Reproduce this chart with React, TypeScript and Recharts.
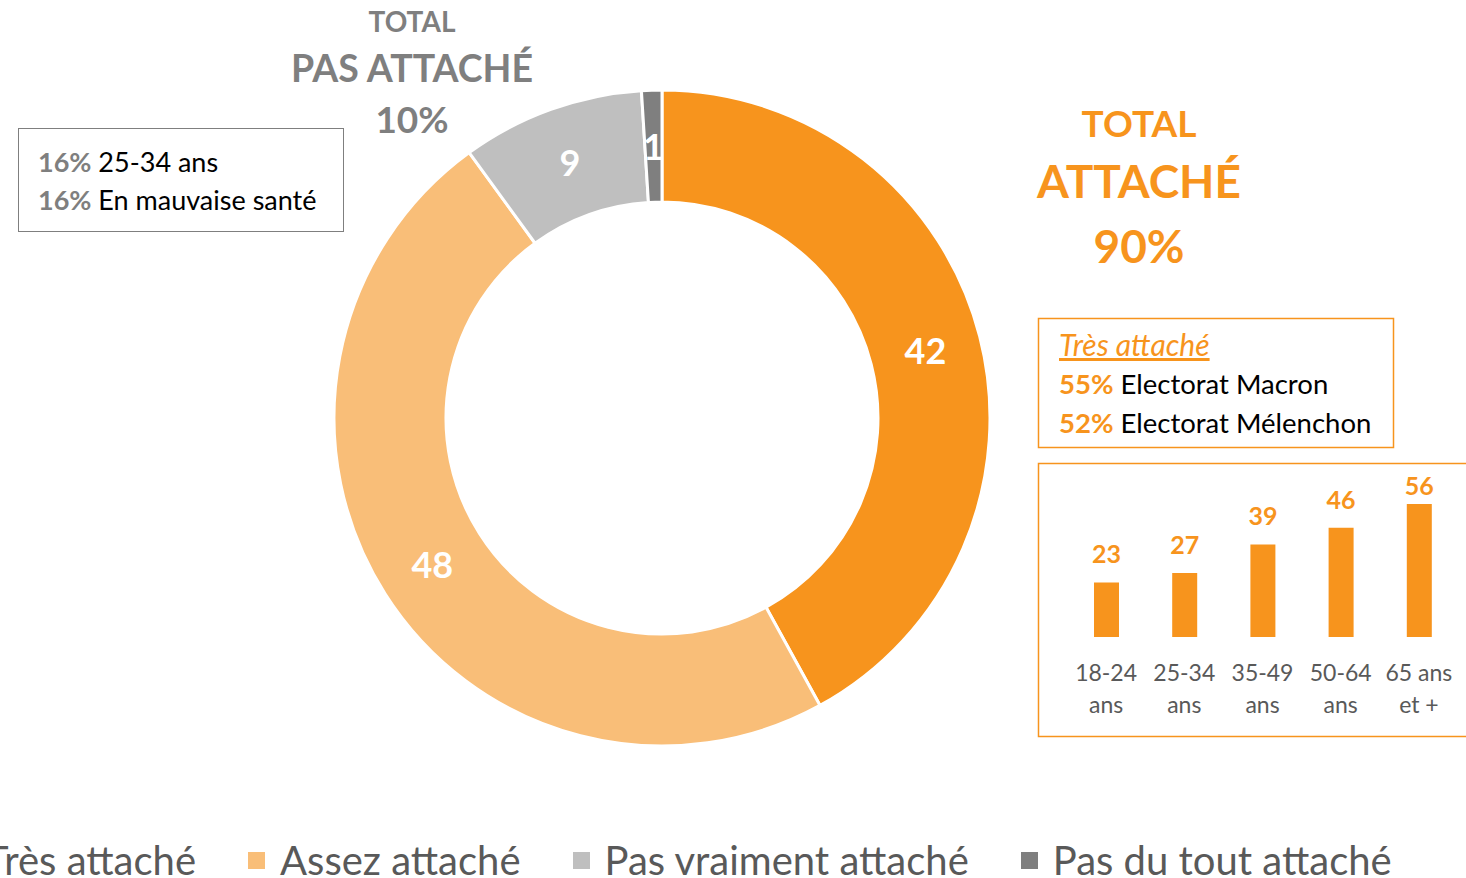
import React from 'react';
import { PieChart, Pie, Cell, Legend, BarChart, Bar, XAxis, YAxis, LabelList } from 'recharts';

// Donut : niveau d'attachement (total = 100)
const categories = ['Très attaché', 'Assez attaché', 'Pas vraiment attaché', 'Pas du tout attaché'];
const shares = [42, 48, 9, 1];
const sliceColors = ['#F7941D', '#F9BE78', '#BFBFBF', '#7F7F7F'];

// Encadré : "Très attaché" par tranche d'âge
const ageGroups = ['18-24 ans', '25-34 ans', '35-49 ans', '50-64 ans', '65 ans et +'];
const ageTickLines = [['18-24', 'ans'], ['25-34', 'ans'], ['35-49', 'ans'], ['50-64', 'ans'], ['65 ans', 'et +']];
const tresAttacheByAge = [23, 27, 39, 46, 56];

const ORANGE = '#F7941D';
const GREY = '#7F7F7F';
const FONT = 'Lato, "Open Sans", sans-serif';
const RAD = Math.PI / 180;

const pieData = categories.map((name, i) => ({ name, value: shares[i] }));
const barData = ageGroups.map((age, i) => ({ age, value: tresAttacheByAge[i] }));

// chiffre blanc au milieu de l'anneau
function SliceLabel(props: any) {
  const { cx, cy, midAngle, innerRadius, outerRadius, value } = props;
  const r = (innerRadius + outerRadius) / 2;
  const x = cx + r * Math.cos(-midAngle * RAD);
  const y = cy + r * Math.sin(-midAngle * RAD);
  return (
    <text x={x} y={y} fill="#fff" fontSize={36} fontWeight="bold" fontFamily={FONT}
      textAnchor="middle" dominantBaseline="central">
      {value}
    </text>
  );
}

// légende dans l'ordre des catégories (Recharts trie par défaut)
function LegendRow() {
  return (
    <div style={{ display: 'flex', justifyContent: 'flex-start', gap: 52, whiteSpace: 'nowrap', fontFamily: FONT }}>
      {categories.map((name, i) => (
        <div key={name} style={{ display: 'flex', alignItems: 'center', gap: 15 }}>
          <span style={{ width: 17, height: 17, background: sliceColors[i], flex: 'none' }} />
          <span style={{ fontSize: 40, lineHeight: '36px', color: '#595959' }}>{name}</span>
        </div>
      ))}
    </div>
  );
}

// libellé d'âge sur deux lignes
function AgeTick(props: any) {
  const { x, y, index } = props;
  const lines = ageTickLines[index] ?? [];
  return (
    <g>
      {lines.map((l, k) => (
        <text key={k} x={x} y={y + 44 + k * 32} textAnchor="middle" fill="#595959" fontSize={23} fontFamily={FONT}>
          {l}
        </text>
      ))}
    </g>
  );
}

// valeur au-dessus de la barre, gardée sous le bord de l'encadré
function BarValue(props: any) {
  const { x, y, width, value } = props;
  const base = Math.max(y - 19, 31);
  return (
    <text x={x + width / 2} y={base} textAnchor="middle" fill={ORANGE} fontSize={25} fontWeight="bold" fontFamily={FONT}>
      {value}
    </text>
  );
}

export default function App() {
  return (
    <div style={{ position: 'absolute', left: 0, top: 0, width: 1466, height: 878, overflow: 'hidden', background: '#fff', fontFamily: FONT }}>
      <PieChart width={1466} height={878} margin={{ top: 0, right: 0, bottom: 0, left: 0 }}>
        <Pie
          data={pieData}
          dataKey="value"
          nameKey="name"
          cx={662}
          cy={418}
          innerRadius={216}
          outerRadius={328}
          startAngle={90}
          endAngle={-270}
          stroke="#fff"
          strokeWidth={3}
          label={SliceLabel}
          labelLine={false}
          isAnimationActive={false}
        >
          {pieData.map((d, i) => (
            <Cell key={d.name} fill={sliceColors[i]} />
          ))}
        </Pie>
        <Legend content={LegendRow} wrapperStyle={{ position: 'absolute', left: -47, top: 842, width: 1600 }} />
      </PieChart>

      {/* annotations */}
      <svg width={1466} height={878} style={{ position: 'absolute', left: 0, top: 0, pointerEvents: 'none' }} fontFamily={FONT}>
        <g fill={GREY} fontWeight="bold" textAnchor="middle">
          <text x={412} y={32} fontSize={28}>TOTAL</text>
          <text x={412} y={82} fontSize={37.5}>PAS ATTACHÉ</text>
          <text x={412} y={133} fontSize={37}>10%</text>
        </g>
        <g fill={ORANGE} fontWeight="bold" textAnchor="middle">
          <text x={1139} y={137} fontSize={37}>TOTAL</text>
          <text x={1139} y={198} fontSize={46}>ATTACHÉ</text>
          <text x={1139} y={263} fontSize={46}>90%</text>
        </g>

        <rect x={18.5} y={128.5} width={325} height={103} fill="none" stroke={GREY} strokeWidth={1} />
        <text x={38} y={172} fontSize={27} fill="#000">
          <tspan fill={GREY} fontWeight="bold">16%</tspan> 25-34 ans
        </text>
        <text x={38} y={210} fontSize={27} fill="#000">
          <tspan fill={GREY} fontWeight="bold">16%</tspan> En mauvaise santé
        </text>

        <rect x={1038.5} y={318.5} width={355} height={129} fill="none" stroke={ORANGE} strokeWidth={1.5} />
        <text x={1059} y={356} fontSize={30} fill={ORANGE} fontStyle="italic" textDecoration="underline">Très attaché</text>
        <text x={1059} y={394} fontSize={27.5} fill="#000">
          <tspan fill={ORANGE} fontWeight="bold">55%</tspan> Electorat Macron
        </text>
        <text x={1059} y={433} fontSize={27.5} fill="#000">
          <tspan fill={ORANGE} fontWeight="bold">52%</tspan> Electorat Mélenchon
        </text>

        <rect x={1038.5} y={463.5} width={450} height={273} fill="none" stroke={ORANGE} strokeWidth={1.5} />
      </svg>

      <div style={{ position: 'absolute', left: 1067, top: 464 }}>
        <BarChart width={391} height={273} data={barData} margin={{ top: 40, right: 0, bottom: 0, left: 0 }}>
          <XAxis dataKey="age" axisLine={false} tickLine={false} tickSize={0} tickMargin={0} height={100}
            interval={0} tick={AgeTick} />
          <YAxis hide domain={[0, 56]} />
          <Bar dataKey="value" fill={ORANGE} barSize={25} isAnimationActive={false}>
            <LabelList dataKey="value" content={BarValue} />
          </Bar>
        </BarChart>
      </div>
    </div>
  );
}
